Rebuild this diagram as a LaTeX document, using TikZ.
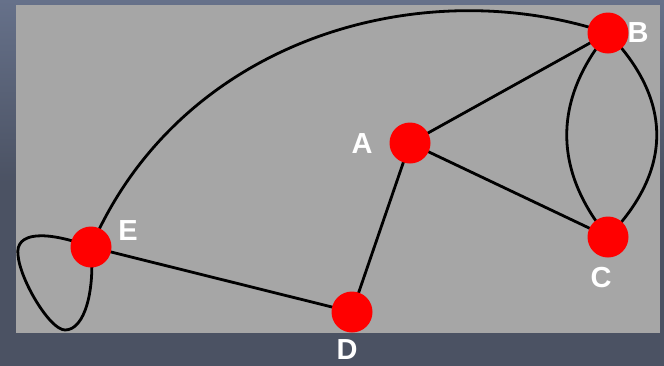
\documentclass[tikz,border=0pt]{standalone}
\usepackage{fontspec}
\setmainfont{Liberation Sans}
\definecolor{bgdark}{HTML}{4B5263}
\definecolor{bglight}{HTML}{66718A}
\definecolor{panel}{HTML}{A6A6A6}
\pgfdeclarelayer{bg}
\pgfdeclarelayer{edges}
\pgfsetlayers{bg,edges,main}
\begin{document}
\begin{tikzpicture}[x=1pt,y=-1pt,
  vertex/.style={circle,fill=red,draw=none,minimum size=41pt,inner sep=0pt},
  lbl/.style={text=white,font=\fontsize{29}{29}\selectfont\bfseries,inner sep=0pt},
  edge/.style={draw=black,line width=2.8pt}]
\useasboundingbox (0,0) rectangle (664,365);
\begin{pgfonlayer}{bg}
\shade[top color=bglight,bottom color=bgdark,middle color=bgdark] (0,0) rectangle (664,365);
\fill[panel] (16,5) rectangle (660,333);
\end{pgfonlayer}
\node[vertex] (A) at (410,143) {};
\node[vertex] (B) at (608,33) {};
\node[vertex] (C) at (608,237) {};
\node[vertex] (D) at (352,312) {};
\node[vertex] (E) at (91,247) {};
\begin{pgfonlayer}{edges}
\draw[edge] (A.center) -- (B.center);
\draw[edge] (A.center) -- (C.center);
\draw[edge] (A.center) -- (D.center);
\draw[edge] (E.center) -- (D.center);
\draw[edge] (B.center) .. controls (553,100) and (553,170) .. (C.center);
\draw[edge] (B.center) .. controls (673,100) and (673,170) .. (C.center);
\draw[edge] (E.center) .. controls (180,40) and (420,-30) .. (B.center);
\draw[edge] (E.center) .. controls (45,230) and (15,232) .. (18,255)
  .. controls (20,280) and (50,330) .. (65,330)
  .. controls (85,330) and (95,290) .. (E.center);
\end{pgfonlayer}
\node[lbl] (lA) at (362,144) {A};
\node[lbl] (lB) at (638,33) {B};
\node[lbl] (lC) at (601,278) {C};
\node[lbl] (lD) at (347,350) {D};
\node[lbl] (lE) at (128,231) {E};
\end{tikzpicture}
\end{document}
